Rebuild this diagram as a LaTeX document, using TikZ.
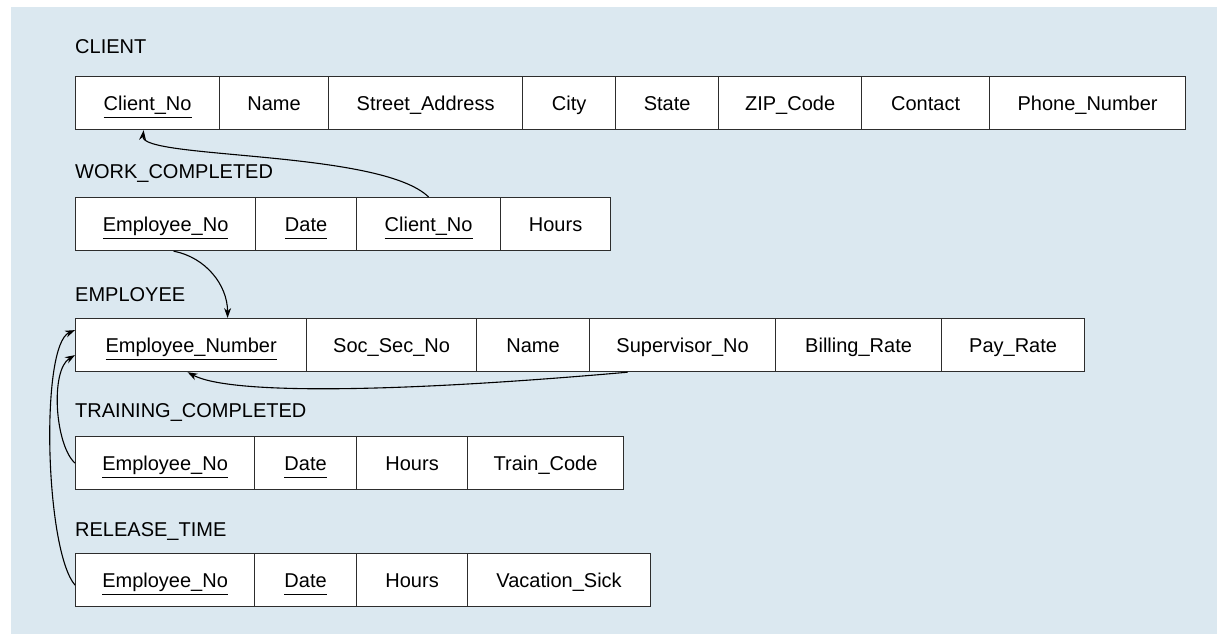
\documentclass[tikz,border=0pt]{standalone}
\usepackage{fontspec}
\setmainfont{Liberation Sans}
\usetikzlibrary{arrows.meta}
\definecolor{panel}{RGB}{219,232,240}
\definecolor{rulec}{RGB}{45,45,45}
% primary-key attribute: text with a rule set below it
\newcommand\pkey[1]{\setbox0\hbox{#1}\rlap{\rule[-8pt]{\wd0}{1.1pt}}\box0}

\begin{document}
\begin{tikzpicture}[x=1pt,y=-1pt,
  cell/.style={draw=rulec, fill=white, line width=1.2pt, inner sep=0pt,
    anchor=north west, minimum height=53pt, text height=14pt, text depth=0pt,
    font=\fontsize{20}{24}\selectfont},
  title/.style={anchor=base west, inner sep=0pt, font=\fontsize{20}{24}\selectfont},
  fk/.style={draw=black, line width=1.1pt, -{Stealth[length=10pt,width=7pt]}}]

\useasboundingbox (0,0) rectangle (1217,634);
\fill[panel] (11,7) rectangle (1217,634);

% CLIENT
\node[title] (tc) at (75,54) {CLIENT};
\node[cell, minimum width=144pt] (c1) at (75,76)  {\pkey{Client\_No}};
\node[cell, minimum width=109pt] (c2) at (219,76) {Name};
\node[cell, minimum width=194pt] (c3) at (328,76) {Street\_Address};
\node[cell, minimum width=93pt]  (c4) at (522,76) {City};
\node[cell, minimum width=103pt] (c5) at (615,76) {State};
\node[cell, minimum width=143pt] (c6) at (718,76) {ZIP\_Code};
\node[cell, minimum width=128pt] (c7) at (861,76) {Contact};
\node[cell, minimum width=196pt] (c8) at (989,76) {Phone\_Number};

% WORK_COMPLETED
\node[title] (tw) at (75,178) {WORK\_COMPLETED};
\node[cell, minimum width=180pt] (w1) at (75,197)  {\pkey{Employee\_No}};
\node[cell, minimum width=101pt] (w2) at (255,197) {\pkey{Date}};
\node[cell, minimum width=144pt] (w3) at (356,197) {\pkey{Client\_No}};
\node[cell, minimum width=110pt] (w4) at (500,197) {Hours};

% EMPLOYEE
\node[title] (te) at (75,301) {EMPLOYEE};
\node[cell, minimum width=231pt] (e1) at (75,318)  {\pkey{Employee\_Number}};
\node[cell, minimum width=170pt] (e2) at (306,318) {Soc\_Sec\_No};
\node[cell, minimum width=113pt] (e3) at (476,318) {Name};
\node[cell, minimum width=186pt] (e4) at (589,318) {Supervisor\_No};
\node[cell, minimum width=166pt] (e5) at (775,318) {Billing\_Rate};
\node[cell, minimum width=143pt] (e6) at (941,318) {Pay\_Rate};

% TRAINING_COMPLETED
\node[title] (tt) at (75,417) {TRAINING\_COMPLETED};
\node[cell, minimum width=179pt] (t1) at (75,436)  {\pkey{Employee\_No}};
\node[cell, minimum width=102pt] (t2) at (254,436) {\pkey{Date}};
\node[cell, minimum width=111pt] (t3) at (356,436) {Hours};
\node[cell, minimum width=156pt] (t4) at (467,436) {Train\_Code};

% RELEASE_TIME
\node[title] (tr) at (75,536) {RELEASE\_TIME};
\node[cell, minimum width=179pt] (r1) at (75,553)  {\pkey{Employee\_No}};
\node[cell, minimum width=102pt] (r2) at (254,553) {\pkey{Date}};
\node[cell, minimum width=111pt] (r3) at (356,553) {Hours};
\node[cell, minimum width=183pt] (r4) at (467,553) {Vacation\_Sick};

% foreign-key references
\draw[fk] (w3.north) .. controls +(-48,-47) and +(-3,29) .. ([xshift=-4pt]c1.south);
\draw[fk] ([xshift=8pt]w1.south) .. controls +(32,6) and +(0,-33) .. ([xshift=36.5pt]e1.north);
\draw[fk] ([xshift=-55pt]e4.south) .. controls +(-227,20) and +(43,23) .. ([xshift=-3.5pt]e1.south);
\draw[fk] (t1.west) .. controls +(-20,-18) and +(-25,15) .. ([yshift=-10pt]e1.west);
\draw[fk] ([yshift=-5pt]r1.west) .. controls +(-30,-35) and +(-35,15) .. ([yshift=15pt]e1.west);
\end{tikzpicture}
\end{document}
